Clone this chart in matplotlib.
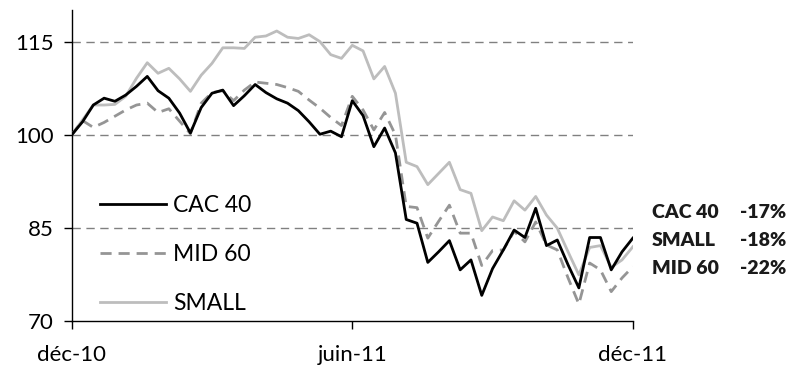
import matplotlib.pyplot as plt
import numpy as np

plt.rcParams['font.family'] = ['Lato', 'DejaVu Sans']

# weekly index values, base 100 in Dec 2010
cac40 = [100.0, 102.1, 104.8, 105.9, 105.4, 106.4, 107.8, 109.4, 107.1, 105.9,
         103.5, 100.3, 104.4, 106.7, 107.2, 104.7, 106.3, 108.1, 106.8, 105.8,
         105.1, 103.9, 102.1, 100.1, 100.6, 99.7, 105.5, 103.1, 98.1, 101.1,
         97.1, 86.4, 85.8, 79.5, 81.2, 83.0, 78.3, 79.9, 74.2, 78.5,
         81.5, 84.7, 83.5, 88.2, 82.2, 83.1, 79.1, 75.4, 83.5, 83.5,
         78.3, 81.2, 83.4]
mid60 = [100.0, 102.3, 101.2, 102.0, 103.0, 104.0, 104.8, 105.1, 103.6, 104.2,
         102.2, 100.2, 105.1, 106.8, 107.1, 105.5, 107.2, 108.5, 108.3, 108.1,
         107.6, 107.0, 105.6, 104.3, 102.8, 101.5, 106.2, 104.0, 100.8, 103.6,
         100.0, 88.5, 88.3, 83.4, 86.1, 88.7, 84.2, 84.2, 79.0, 81.4,
         81.5, 84.5, 82.8, 86.0, 82.3, 81.5, 77.0, 72.8, 79.4, 78.3,
         74.8, 77.0, 78.8]
small = [100.0, 102.4, 104.8, 104.8, 104.9, 106.2, 109.1, 111.6, 109.9, 110.7,
         109.0, 107.0, 109.6, 111.5, 114.0, 114.0, 113.9, 115.7, 115.9, 116.7,
         115.7, 115.5, 116.1, 115.0, 112.9, 112.3, 114.4, 113.5, 109.0, 111.0,
         106.7, 95.6, 94.9, 92.0, 93.8, 95.6, 91.2, 90.6, 84.6, 86.8,
         86.2, 89.4, 87.9, 90.1, 87.1, 85.0, 81.2, 77.5, 81.9, 82.2,
         78.7, 79.9, 82.0]

xtick_pos = [0, 26, 52]
xtick_labels = ['déc-10', 'juin-11', 'déc-11']
yticks = [70, 85, 100, 115]

perf_names = ['CAC 40', 'SMALL', 'MID 60']
perf_values = ['-17%', '-18%', '-22%']

weeks = np.arange(len(cac40))

fig = plt.figure(figsize=(7.97, 3.74), dpi=100)
ax = fig.add_axes([0.09, 0.1404, 0.704, 0.8316])

for y in yticks[1:]:
    ax.axhline(y, color='#808080', lw=1, dashes=(6, 4), zorder=1)

ax.plot(weeks, cac40, color='black', lw=2, label='CAC 40', zorder=4)
ax.plot(weeks, mid60, color='#959595', lw=2, dashes=(4, 2.5), label='MID 60', zorder=3)
ax.plot(weeks, small, color='#bdbdbd', lw=2, label='SMALL', zorder=2)

ax.set_xlim(0, 52)
ax.set_ylim(70, 120)
ax.set_xticks(xtick_pos)
ax.set_xticklabels(xtick_labels)
ax.set_yticks(yticks)
ax.tick_params(direction='out', length=6, width=1, labelsize=16, color='black')
ax.tick_params(axis='y', pad=7)
ax.tick_params(axis='x', pad=11)

for s in ['top', 'right']:
    ax.spines[s].set_visible(False)
for s in ['left', 'bottom']:
    ax.spines[s].set_linewidth(1)

ax.legend(loc='upper left', bbox_to_anchor=(0.013, 0.474), frameon=False,
          fontsize=16.5, handlelength=2.9, handletextpad=0.3, labelspacing=1.22)

ys = [0.433, 0.356, 0.281]
for name, val, y in zip(perf_names, perf_values, ys):
    fig.text(0.818, y, name, fontsize=14, fontweight='heavy', va='center', color='#1a1a1a')
    fig.text(0.928, y, val, fontsize=14, fontweight='heavy', va='center', color='#1a1a1a')

fig.savefig('out.png', dpi=100)
